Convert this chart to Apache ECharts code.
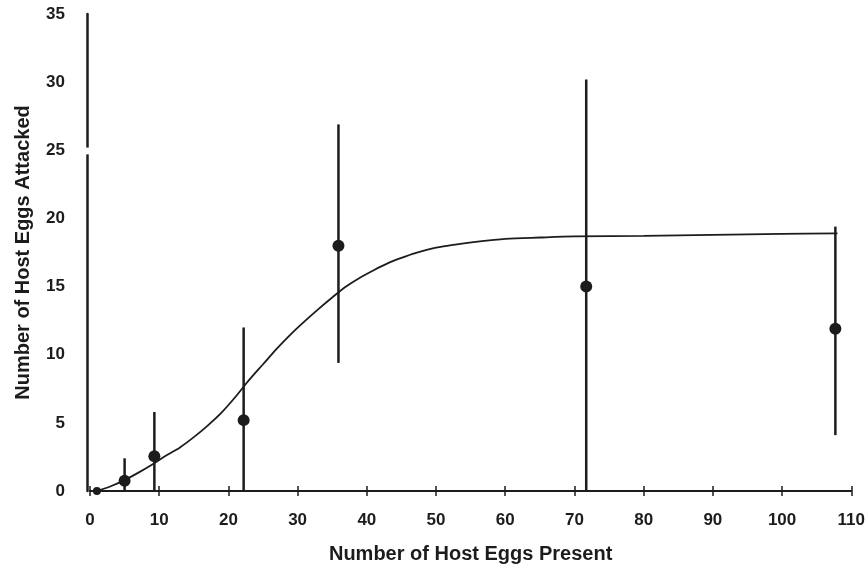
<!DOCTYPE html>
<html>
<head>
<meta charset="utf-8">
<script src="https://cdn.jsdelivr.net/npm/echarts@6/dist/echarts.min.js"></script>
<style>
  html, body { margin: 0; padding: 0; background: #ffffff; }
  #chart { width: 868px; height: 569px; }
</style>
</head>
<body>
<div id="chart"></div>
<script>
// Observed data: number of host eggs present vs. number attacked (mean with range)
const hostEggs     = [1, 5, 9.3, 22.2, 35.9, 71.7, 107.7];
const meanAttacked = [0, 0.75, 2.55, 5.2, 18.0, 15.0, 11.9];
const errLow       = [0, 0, 0, 0, 9.4, 0, 4.1];
const errHigh      = [0, 2.4, 5.8, 12.0, 26.9, 30.2, 19.4];

// Fitted curve
const fitX = [1, 3, 5, 7, 9, 11, 13, 15, 17, 19, 21, 23, 25, 27, 29, 31, 33, 35, 37, 39, 41, 43, 45, 47, 50, 53, 56, 60, 65, 70, 80, 90, 100, 108];
const fitY = [0, 0.35, 0.8, 1.35, 1.95, 2.6, 3.2, 3.95, 4.8, 5.75, 6.9, 8.15, 9.3, 10.45, 11.5, 12.45, 13.35, 14.2, 15.0, 15.65, 16.2, 16.7, 17.1, 17.45, 17.85, 18.1, 18.3, 18.5, 18.6, 18.68, 18.72, 18.8, 18.87, 18.9];

// Axis ticks
const xMin = 0, xMax = 110, xStep = 10;
const yMin = 0, yMax = 35, yStep = 5;

const ink = '#1c1c1c';
const fontFam = '"Liberation Sans", Arial, Helvetica, sans-serif';

const chart = echarts.init(document.getElementById('chart'), null, { renderer: 'canvas' });

const points = hostEggs.map((x, i) => [x, meanAttacked[i]]);
const bars = hostEggs.map((x, i) => [x, errLow[i], errHigh[i]]).filter(d => d[2] > d[1]);
const fit = fitX.map((x, i) => [x, fitY[i]]);

chart.setOption({
  backgroundColor: '#ffffff',
  animation: false,
  grid: { left: 90, right: 11, top: 14, bottom: 78, containLabel: false },
  xAxis: [{
    type: 'value', min: xMin, max: xMax, interval: xStep,
    name: 'Number of Host Eggs Present',
    nameLocation: 'middle', nameGap: 53,
    nameTextStyle: { color: ink, fontSize: 20, fontWeight: 'bold', fontFamily: fontFam },
    axisLine: { show: true, onZero: false, lineStyle: { color: ink, width: 2 } },
    axisTick: { show: true, length: 5, lineStyle: { color: ink, width: 1.5 } },
    axisLabel: { color: ink, fontSize: 17, fontWeight: 'bold', fontFamily: fontFam, margin: 21 },
    splitLine: { show: false }
  }, {
    type: 'value', min: xMin, max: xMax, interval: xStep, position: 'bottom',
    axisLine: { show: false },
    axisTick: { show: true, inside: true, length: 5, lineStyle: { color: ink, width: 1.5 } },
    axisLabel: { show: false },
    splitLine: { show: false }
  }],
  yAxis: {
    type: 'value', min: yMin, max: yMax, interval: yStep,
    offset: 3,
    name: 'Number of Host Eggs Attacked',
    nameLocation: 'middle', nameGap: 54,
    nameTextStyle: { color: ink, fontSize: 20, fontWeight: 'bold', fontFamily: fontFam },
    axisLine: { show: true, onZero: false, lineStyle: { color: ink, width: 2.5 } },
    axisTick: { show: false },
    axisLabel: { color: ink, fontSize: 17, fontWeight: 'bold', fontFamily: fontFam, margin: 22 },
    splitLine: { show: false }
  },
  series: [
    {
      type: 'custom',
      name: 'range',
      xAxisIndex: 0,
      data: bars,
      renderItem: function (params, api) {
        const lo = api.coord([api.value(0), api.value(1)]);
        const hi = api.coord([api.value(0), api.value(2)]);
        return {
          type: 'line',
          shape: { x1: lo[0], y1: lo[1], x2: hi[0], y2: hi[1] },
          style: { stroke: ink, lineWidth: 2.5 }
        };
      },
      z: 2
    },
    {
      type: 'line',
      name: 'fit',
      xAxisIndex: 0,
      data: fit,
      smooth: 0.3,
      showSymbol: false,
      lineStyle: { color: ink, width: 1.8 },
      z: 3
    },
    {
      type: 'scatter',
      name: 'mean',
      xAxisIndex: 0,
      data: points,
      symbol: 'circle',
      symbolSize: function (val) { return val[1] === 0 ? 8 : 12; },
      itemStyle: { color: ink, opacity: 1 },
      z: 4
    }
  ]
});

// small break in the y-axis line near 25, as in the original figure
const gTop = chart.convertToPixel({ gridIndex: 0 }, [0, 25.2]);
const gBot = chart.convertToPixel({ gridIndex: 0 }, [0, 24.7]);
chart.setOption({
  graphic: [{
    type: 'rect',
    shape: { x: gTop[0] - 7, y: gTop[1], width: 6, height: gBot[1] - gTop[1] },
    style: { fill: '#ffffff' },
    z: 100
  }]
});
</script>
</body>
</html>
